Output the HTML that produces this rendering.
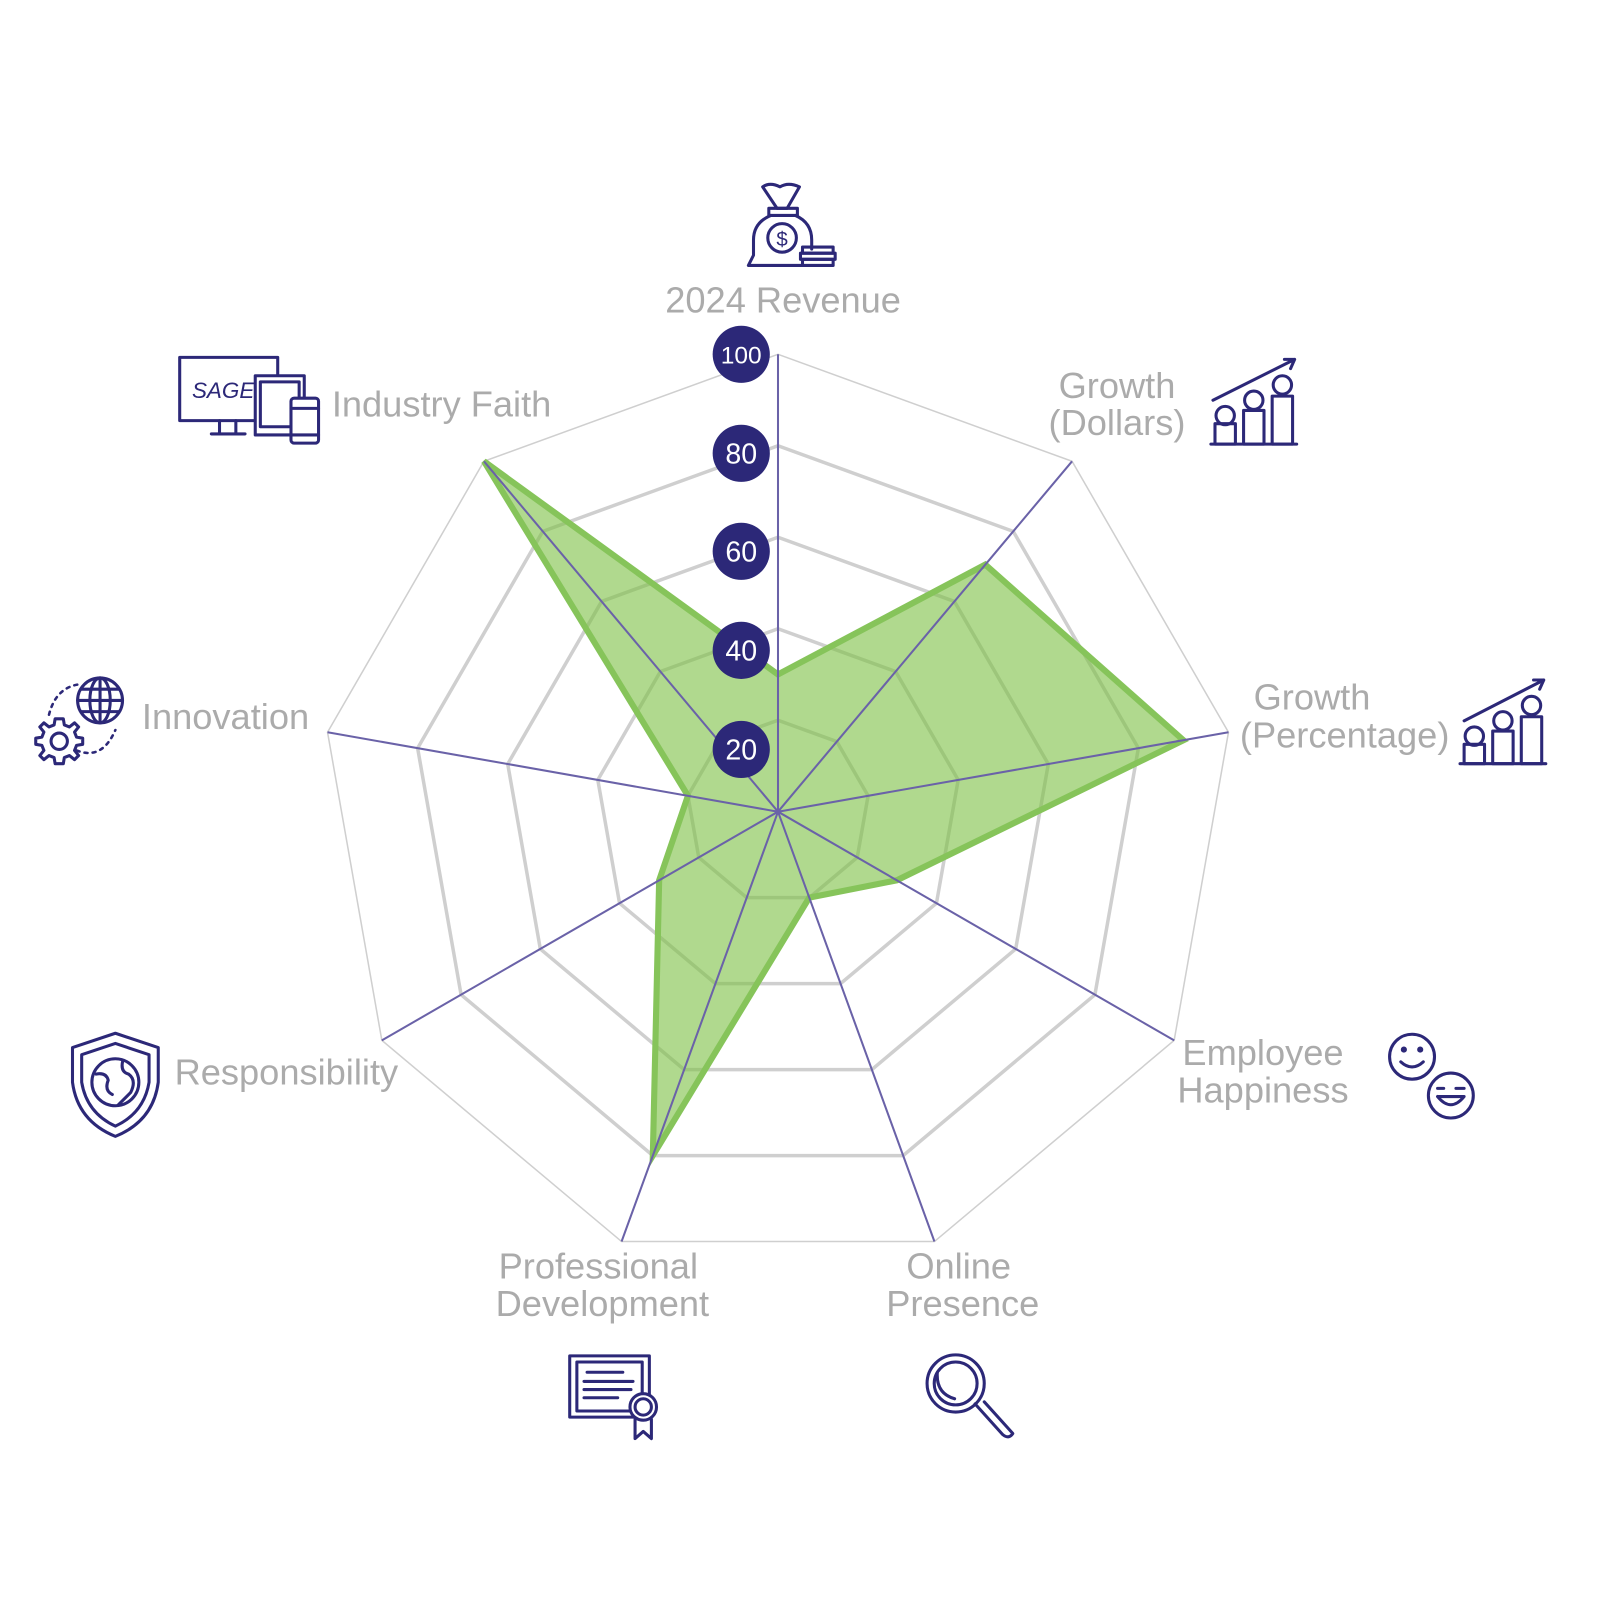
<!DOCTYPE html>
<html><head><meta charset="utf-8"><style>
html,body{margin:0;padding:0;background:#fff;width:1600px;height:1600px;overflow:hidden}
text{font-family:"Liberation Sans",sans-serif}
</style></head><body>
<svg width="1600" height="1600" viewBox="0 0 1600 1600" xmlns="http://www.w3.org/2000/svg">
<g transform="scale(1.021)">
<g transform="translate(762,795)">
<g fill="none" stroke="#cfcfcf">
<polygon stroke-width="3.5" transform="scale(0.2)" vector-effect="non-scaling-stroke" points="0,-448 288,-343.2 441.2,-77.8 388,224 153.2,421 -153.2,421 -388,224 -441.2,-77.8 -288,-343.2"/>
<polygon stroke-width="3.5" transform="scale(0.4)" vector-effect="non-scaling-stroke" points="0,-448 288,-343.2 441.2,-77.8 388,224 153.2,421 -153.2,421 -388,224 -441.2,-77.8 -288,-343.2"/>
<polygon stroke-width="3.5" transform="scale(0.6)" vector-effect="non-scaling-stroke" points="0,-448 288,-343.2 441.2,-77.8 388,224 153.2,421 -153.2,421 -388,224 -441.2,-77.8 -288,-343.2"/>
<polygon stroke-width="3.5" transform="scale(0.8)" vector-effect="non-scaling-stroke" points="0,-448 288,-343.2 441.2,-77.8 388,224 153.2,421 -153.2,421 -388,224 -441.2,-77.8 -288,-343.2"/>
<polygon stroke-width="1.5" points="0,-448 288,-343.2 441.2,-77.8 388,224 153.2,421 -153.2,421 -388,224 -441.2,-77.8 -288,-343.2"/>
</g>
<polygon points="0,-134.4 203,-242 397.1,-70 116.4,67.2 30.6,84.2 -122.6,336.8 -116.4,67.2 -88.2,-15.6 -288,-343.2" fill="#7cc043" fill-opacity="0.6" stroke="#86c45a" stroke-width="6"/>
<path d="M0 0L0,-448M0 0L288,-343.2M0 0L441.2,-77.8M0 0L388,224M0 0L153.2,421M0 0L-153.2,421M0 0L-388,224M0 0L-441.2,-77.8M0 0L-288,-343.2" stroke="#6a62a8" stroke-width="2" fill="none"/>
</g>
<g fill="#2c2878">
<circle cx="726" cy="347" r="28"/><circle cx="726" cy="444" r="28"/><circle cx="726" cy="540" r="28"/><circle cx="726" cy="637" r="28"/><circle cx="726" cy="734" r="28"/>
</g>
<g fill="#fff" text-anchor="middle" font-size="28" font-family="Liberation Sans, sans-serif">
<text x="726" y="356" font-size="24">100</text>
<text x="726" y="454">80</text>
<text x="726" y="550">60</text>
<text x="726" y="647">40</text>
<text x="726" y="744">20</text>
</g>
<g font-size="35.5" fill="#ababab" font-family="Liberation Sans, sans-serif">
<text x="767" y="306" text-anchor="middle">2024 Revenue</text>
<text x="1094" y="390" text-anchor="middle">Growth</text>
<text x="1094" y="426" text-anchor="middle">(Dollars)</text>
<text x="1285" y="695" text-anchor="middle">Growth</text>
<text x="1317" y="732" text-anchor="middle">(Percentage)</text>
<text x="1237" y="1043" text-anchor="middle">Employee</text>
<text x="1237" y="1080" text-anchor="middle">Happiness</text>
<text x="939" y="1252" text-anchor="middle">Online</text>
<text x="943" y="1289" text-anchor="middle">Presence</text>
<text x="586" y="1252" text-anchor="middle">Professional</text>
<text x="590" y="1289" text-anchor="middle">Development</text>
<text x="171" y="1062">Responsibility</text>
<text x="139" y="714">Innovation</text>
<text x="325" y="408">Industry Faith</text>
</g>
<g fill="none" stroke="#2c2878" stroke-width="3" stroke-linejoin="round" stroke-linecap="round">
<path d="M761 204 L747 183 Q754 178 764 183 Q772 178 783 183 L771 204 Z"/>
<rect x="753" y="204" width="28" height="7"/>
<path d="M755 211 Q738 218 738 235 L738 250 L733 260 L786 260 M779 211 Q795 218 795 235 L795 244"/>
<circle cx="766" cy="233" r="14"/>
<text x="766" y="241" text-anchor="middle" font-size="20" fill="#2c2878" stroke="none">$</text>
<rect x="786" y="242" width="30" height="6"/><rect x="784" y="248" width="34" height="6"/><rect x="786" y="254" width="30" height="6"/>
<path d="M1188 392 L1268 352 M1258 352 L1268 352 L1264 361"/>
<path d="M1186 435 L1270 435"/>
<rect x="1190" y="415" width="20" height="20"/><circle cx="1200" cy="407" r="9"/>
<rect x="1218" y="402" width="20" height="33"/><circle cx="1228" cy="392" r="9"/>
<rect x="1246" y="388" width="20" height="47"/><circle cx="1256" cy="377" r="9"/>
<path d="M1434 706 L1512 666 M1502 666 L1512 666 L1508 675"/>
<path d="M1430 748 L1514 748"/>
<rect x="1434" y="729" width="20" height="19"/><circle cx="1444" cy="721" r="9"/>
<rect x="1462" y="716" width="20" height="32"/><circle cx="1472" cy="706" r="9"/>
<rect x="1490" y="702" width="20" height="46"/><circle cx="1500" cy="691" r="9"/>
<circle cx="1383" cy="1035" r="22"/><circle cx="1375" cy="1028" r="1.5"/><circle cx="1391" cy="1028" r="1.5"/><path d="M1372 1040 Q1383 1050 1394 1040"/>
<circle cx="1421" cy="1073" r="22"/><path d="M1408 1066 l6 0 M1426 1066 l8 0 M1408 1074 L1434 1074 Q1421 1090 1408 1074"/>
<circle cx="936" cy="1355" r="28"/><circle cx="936" cy="1355" r="21"/>
<path d="M918 1345 Q917 1365 935 1370"/>
<path d="M955 1375 L982 1405 Q988 1410 992 1404 L964 1373"/>
<rect x="558" y="1328" width="78" height="60"/><rect x="565" y="1334" width="64" height="48"/>
<path d="M575 1344 L610 1344 M572 1353 L620 1353 M572 1361 L618 1361 M572 1369 L605 1369"/>
<circle cx="630" cy="1378" r="13" fill="#fff"/><circle cx="630" cy="1378" r="8"/>
<path d="M622 1390 L622 1409 L630 1402 L638 1409 L638 1390"/>
<path d="M113 1012 L155 1026 L155 1060 Q150 1098 113 1113 Q76 1098 71 1060 L71 1026 Z"/>
<path d="M113 1022 L146 1033 L146 1060 Q141 1090 113 1103 Q85 1090 80 1060 L80 1033 Z"/>
<circle cx="113" cy="1060" r="23"/>
<path d="M94 1052 Q104 1050 106 1058 Q102 1068 110 1072 M120 1040 Q118 1050 126 1052 Q134 1058 128 1070 Q120 1078 116 1082"/>
<circle cx="98" cy="686" r="22"/><ellipse cx="98" cy="686" rx="10" ry="22"/><path d="M76 686 L120 686 M80 675 L116 675 M80 697 L116 697 M98 664 L98 708"/>
<circle cx="58" cy="726" r="8"/>
<path d="M58 704 l4 0 1 6 5 2 5-4 4 4-4 5 2 5 6 1 0 6-6 1-2 5 4 5-4 4-5-4-5 2-1 6-8 0-1-6-5-2-5 4-4-4 4-5-2-5-6-1 0-6 6-1 2-5-4-5 4-4 5 4 5-2 1-6z"/>
<path d="M48 700 Q55 672 80 670 M75 735 Q100 745 113 715" stroke-dasharray="3 5" stroke-width="2.5"/>
<rect x="176" y="350" width="96" height="62"/><path d="M215 412 L215 424 M231 412 L231 424 M207 425 L240 425"/>
<text x="188" y="390" font-size="22" fill="#2c2878" stroke="none" font-style="italic">SAGE</text>
<rect x="250" y="368" width="48" height="58" fill="#fff"/><rect x="255" y="374" width="38" height="44"/>
<rect x="285" y="390" width="27" height="44" rx="3" fill="#fff"/><path d="M285 400 L312 400 M285 426 L312 426"/>
</g>
</g>
</svg>
</body></html>
